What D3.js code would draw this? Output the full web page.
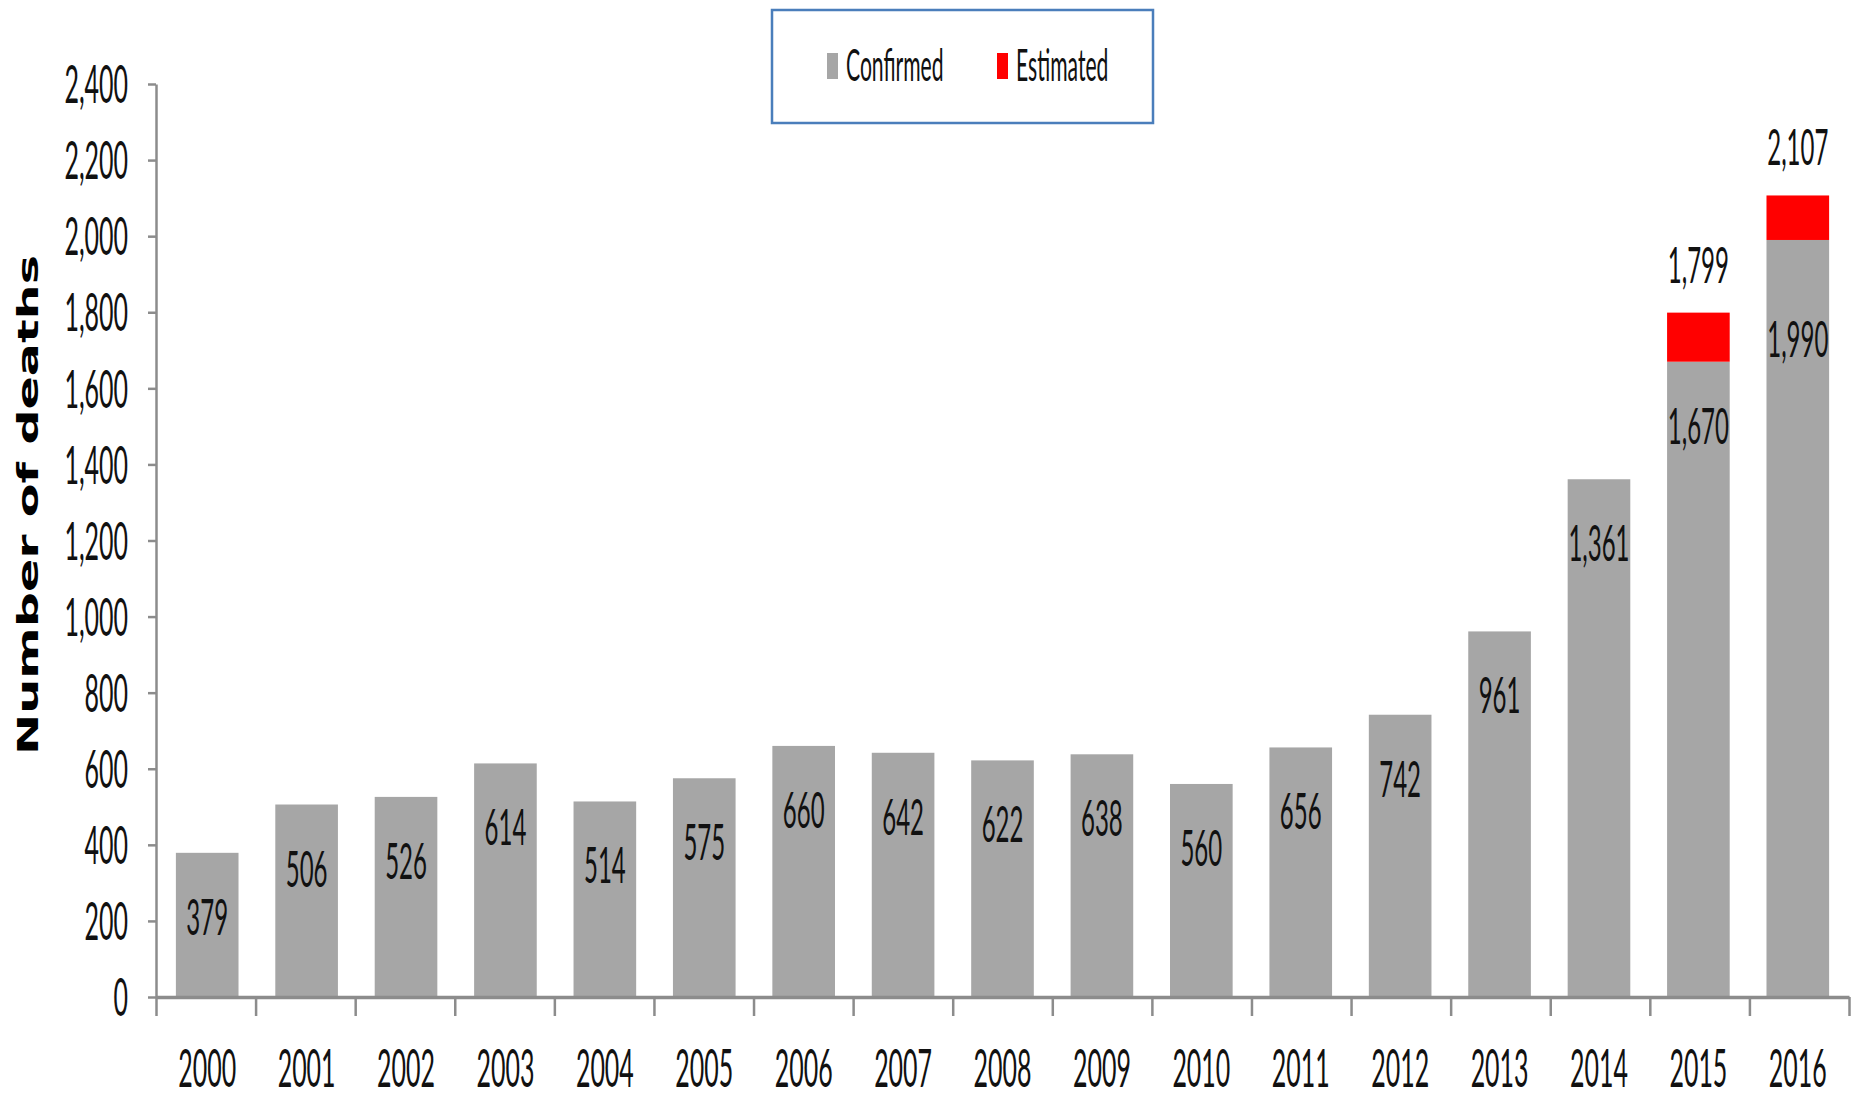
<!DOCTYPE html>
<html lang="en">
<head>
<meta charset="UTF-8">
<script src="https://cdn.jsdelivr.net/npm/d3@7"></script>
<title>Number of deaths 2000-2016</title>
<style>
  html, body { margin: 0; padding: 0; background: #fff; }
  svg { display: block; }
  .lbl { font-family: Lato, "Liberation Sans", sans-serif; font-weight: 400; fill: #111; }
</style>
</head>
<body>
<script>
const years = ["2000","2001","2002","2003","2004","2005","2006","2007","2008","2009","2010","2011","2012","2013","2014","2015","2016"];
const confirmed = [379, 506, 526, 614, 514, 575, 660, 642, 622, 638, 560, 656, 742, 961, 1361, 1670, 1990];
const estimated = [0, 0, 0, 0, 0, 0, 0, 0, 0, 0, 0, 0, 0, 0, 0, 129, 117];
const totals = [null, null, null, null, null, null, null, null, null, null, null, null, null, null, null, 1799, 2107];
const yTicks = [0, 200, 400, 600, 800, 1000, 1200, 1400, 1600, 1800, 2000, 2200, 2400];
const seriesNames = ["Confirmed", "Estimated"];
const colors = ["#a6a6a6", "#ff0000"];

const W = 1851, H = 1094;
const mLeft = 156, mRight = 1849, mTop = 84, mBottom = 997;
const SX = 0.48; // the picture's text is squeezed sideways
const fmt = d3.format(",");

const svg = d3.select("body").append("svg").attr("width", W).attr("height", H);

const x = d3.scaleBand().domain(years).range([mLeft, mRight]).paddingInner(0.37).paddingOuter(0.2);
const xEdges = d3.scaleLinear().domain([0, years.length]).range([mLeft, mRight]);
const y = d3.scaleLinear().domain([0, 2400]).range([mBottom, mTop]);

// condensed text helper
function ctext(sel, tx, ty, str, size, anchor) {
    return sel.append("text")
        .attr("class", "lbl")
        .attr("transform", `translate(${tx},${ty}) scale(${SX},1)`)
        .attr("text-anchor", anchor || "middle")
        .style("font-size", size + "px")
        .text(str);
}

// bars
const rows = years.map((yr, i) => ({ year: yr, c: confirmed[i], e: estimated[i], t: totals[i] }));

svg.append("g").selectAll("rect.conf")
    .data(rows).enter().append("rect")
    .attr("class", "conf")
    .attr("x", d => x(d.year))
    .attr("width", x.bandwidth())
    .attr("y", d => y(d.c))
    .attr("height", d => y(0) - y(d.c))
    .attr("fill", colors[0]);

svg.append("g").selectAll("rect.est")
    .data(rows.filter(d => d.e > 0)).enter().append("rect")
    .attr("class", "est")
    .attr("x", d => x(d.year))
    .attr("width", x.bandwidth())
    .attr("y", d => y(d.c + d.e))
    .attr("height", d => y(d.c) - y(d.c + d.e))
    .attr("fill", colors[1]);

// y axis
const yAxis = svg.append("g")
    .attr("transform", `translate(${mLeft},0)`)
    .call(d3.axisLeft(y).tickValues(yTicks).tickSize(8).tickSizeOuter(0).tickFormat(fmt));
yAxis.select(".domain").attr("stroke", "#8c8c8c").attr("stroke-width", 2.5);
yAxis.selectAll(".tick line").attr("stroke", "#8c8c8c").attr("stroke-width", 2.5);
yAxis.attr("font-family", null).attr("font-size", null);
yAxis.selectAll(".tick text")
    .attr("class", "lbl")
    .attr("x", -28 / SX)
    .attr("dy", "0.36em")
    .attr("transform", `scale(${SX},1)`)
    .style("font-size", "52px");

// x axis: boundary ticks
const xAxisEdges = svg.append("g")
    .attr("transform", `translate(0,${mBottom})`)
    .call(d3.axisBottom(xEdges).tickValues(d3.range(years.length + 1)).tickSize(19).tickSizeOuter(0).tickFormat(""));
xAxisEdges.select(".domain").attr("stroke", "#8c8c8c").attr("stroke-width", 3.5);
xAxisEdges.selectAll(".tick line").attr("stroke", "#8c8c8c").attr("stroke-width", 2.5);

// x labels
const xAxisLbl = svg.append("g")
    .attr("transform", `translate(0,${mBottom})`)
    .call(d3.axisBottom(x).tickSize(0).tickPadding(0));
xAxisLbl.attr("font-family", null).attr("font-size", null);
xAxisLbl.select(".domain").remove();
xAxisLbl.selectAll(".tick text")
    .attr("class", "lbl")
    .attr("x", 0)
    .attr("y", 90)
    .attr("dy", 0)
    .attr("transform", `scale(${SX},1)`)
    .style("font-size", "52px");

// value labels inside bars
const labels = svg.append("g");
rows.forEach(d => {
    const drop = d.year === "2016" ? 117 : 82;
    ctext(labels, x(d.year) + x.bandwidth() / 2, y(d.c) + drop, fmt(d.c), 50);
    if (d.t) {
        ctext(labels, x(d.year) + x.bandwidth() / 2, y(d.c + d.e) - 30, fmt(d.t), 50);
    }
});

// y title
svg.append("text")
    .attr("transform", `translate(38,505) rotate(-90)`)
    .attr("text-anchor", "middle")
    .attr("textLength", 500)
    .attr("lengthAdjust", "spacingAndGlyphs")
    .style("font-family", "'DejaVu Sans', Verdana, sans-serif")
    .style("font-weight", "bold")
    .style("font-size", "29px")
    .attr("fill", "#000")
    .text("Number of deaths");

// legend
const legend = svg.append("g");
legend.append("rect")
    .attr("x", 772).attr("y", 10).attr("width", 381).attr("height", 113)
    .attr("fill", "#fff").attr("stroke", "#4a7ebb").attr("stroke-width", 2.5);
const legX = [827, 997];
seriesNames.forEach((name, i) => {
    legend.append("rect")
        .attr("x", legX[i]).attr("y", 53).attr("width", 11).attr("height", 26)
        .attr("fill", colors[i]);
    ctext(legend, legX[i] + 19, 81, name, 44, "start");
});
</script>
</body>
</html>
